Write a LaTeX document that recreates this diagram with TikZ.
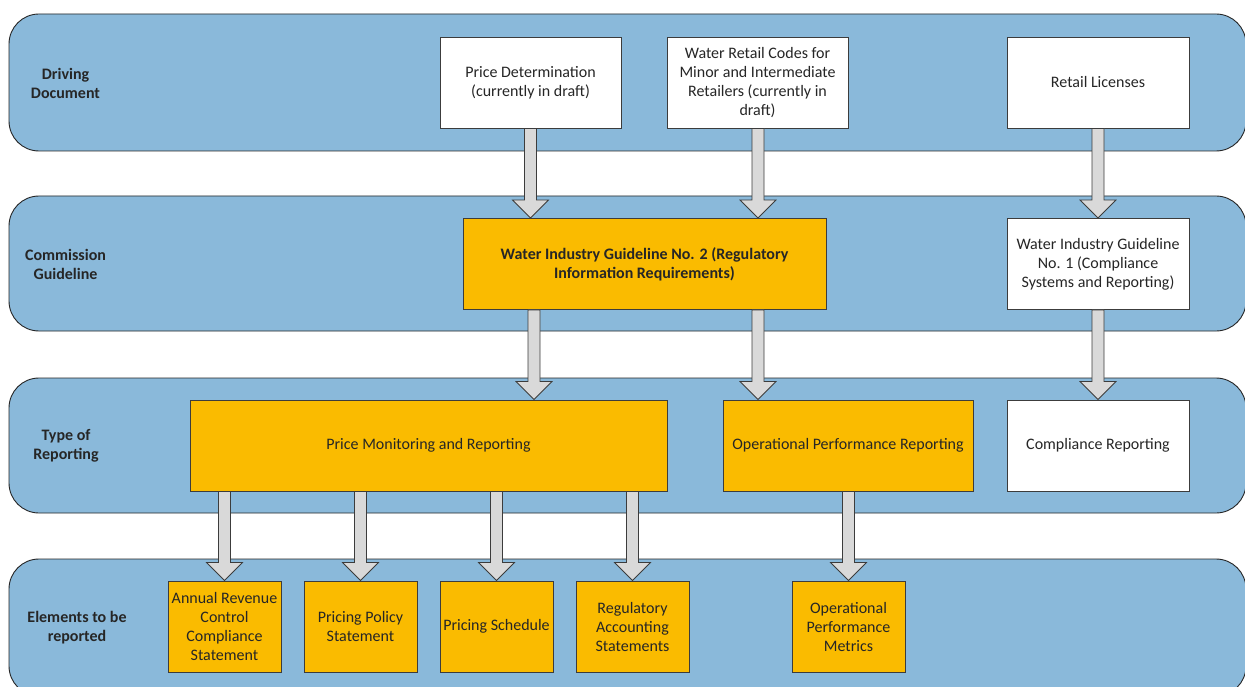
\documentclass[tikz,border=0pt]{standalone}
\usepackage{fontspec}
\setmainfont{Carlito}
\usetikzlibrary{calc}
\definecolor{Band}{RGB}{138,185,218}
\definecolor{Amber}{RGB}{250,187,0}
\definecolor{Ink}{RGB}{38,38,38}
\definecolor{Edge}{RGB}{60,60,60}
\definecolor{Shaft}{RGB}{217,217,217}
% block arrow from the bottom of #1 to the top of #2 at x=#3
\newcommand\barrow[3]{%
\path[a] let \p1=(#1.south), \p2=(#2.north) in
 ({#3pt-6pt},\y1) -- ({#3pt+6pt},\y1) -- ({#3pt+6pt},{\y2+18pt}) -- ({#3pt+18pt},{\y2+18pt})
 -- ({#3pt},\y2) -- ({#3pt-18pt},{\y2+18pt}) -- ({#3pt-6pt},{\y2+18pt}) -- cycle;}
\begin{document}
\begin{tikzpicture}[x=1pt,y=-1pt,font=\fontsize{16}{19}\selectfont,
 band/.style={rounded corners=30pt,draw=Ink,fill=Band,line width=.9pt},
 lab/.style={align=center,font=\fontsize{16}{19}\selectfont\bfseries,text=Ink},
 w/.style={draw=Edge,fill=white,line width=.9pt,minimum height=91pt,align=center,text=Ink,inner sep=2pt},
 o/.style={w,fill=Amber},
 a/.style={draw=Edge,fill=Shaft,line width=.8pt,line join=miter}]
\useasboundingbox (0,0) rectangle (1245,687);
% bands
\draw[band] (9,14) rectangle (1246,151);
\draw[band] (9,196) rectangle (1246,331);
\draw[band] (9,378) rectangle (1246,513);
\draw[band] (9,559) rectangle (1246,696);
\node[lab] (dd) at (65.5,83) {Driving\\Document};
\node[lab] (cg) at (65.5,264.5) {Commission\\Guideline};
\node[lab] (tr) at (66,446) {Type of\\Reporting};
\node[lab] (er) at (77,627.5) {Elements to be\\reported};
% driving documents
\node[w,minimum width=181pt] (pd) at (530.5,82.5) {Price Determination\\(currently in draft)};
\node[w,minimum width=181pt] (wr) at (757.5,82.5) {Water Retail Codes for\\Minor and Intermediate\\Retailers (currently in\\draft)};
\node[w,minimum width=182pt] (rl) at (1098,82.5) {Retail Licenses};
% guidelines
\node[o,minimum width=363pt,font=\fontsize{16}{19}\selectfont\bfseries] (g2) at (644.5,264) {Water Industry Guideline No. 2 (Regulatory\\Information Requirements)};
\node[w,minimum width=182pt] (g1) at (1098,264) {Water Industry Guideline\\No. 1 (Compliance\\Systems and Reporting)};
% reporting
\node[o,minimum width=477pt] (pm) at (428.5,445.5) {Price Monitoring and Reporting};
\node[o,minimum width=250pt] (op) at (848,445.5) {Operational Performance Reporting};
\node[w,minimum width=182pt] (cr) at (1098,445.5) {Compliance Reporting};
% elements
\node[o,minimum width=113pt] (ar) at (224.5,626.5) {Annual Revenue\\Control\\Compliance\\Statement};
\node[o,minimum width=113pt] (pp) at (360.5,626.5) {Pricing Policy\\Statement};
\node[o,minimum width=113pt] (ps) at (496.5,626.5) {Pricing Schedule};
\node[o,minimum width=113pt] (ra) at (632.5,626.5) {Regulatory\\Accounting\\Statements};
\node[o,minimum width=113pt] (om) at (848.5,626.5) {Operational\\Performance\\Metrics};
% arrows
\barrow{pd}{g2}{530.5}
\barrow{wr}{g2}{758}
\barrow{rl}{g1}{1098}
\barrow{g2}{pm}{534}
\barrow{g2}{op}{758}
\barrow{g1}{cr}{1098}
\barrow{pm}{ar}{224.5}
\barrow{pm}{pp}{360.5}
\barrow{pm}{ps}{496.5}
\barrow{pm}{ra}{632.5}
\barrow{op}{om}{848.5}
\end{tikzpicture}
\end{document}
